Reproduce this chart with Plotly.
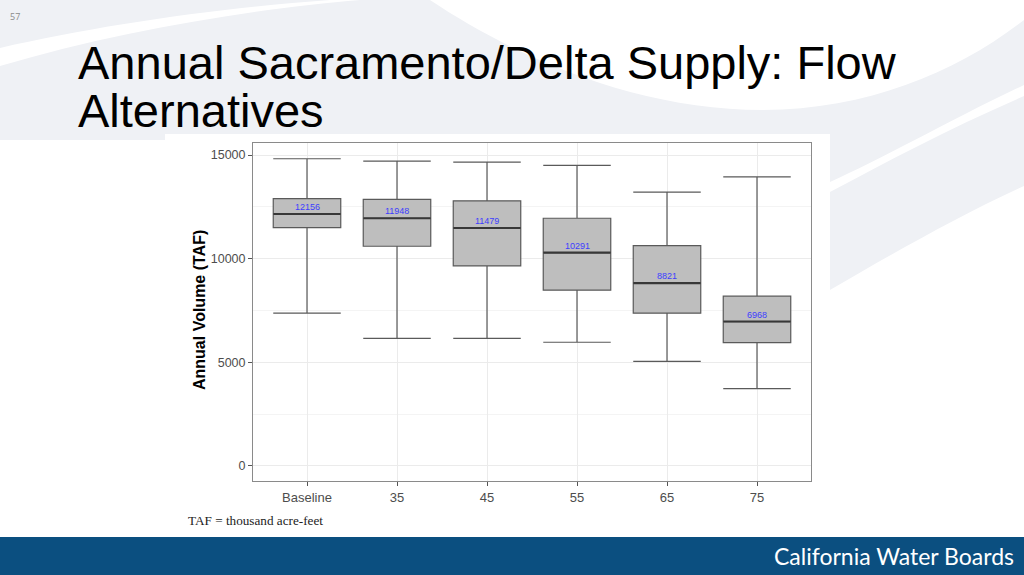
import plotly.graph_objects as go

# box statistics (TAF)
scenarios = ["Baseline", "35", "45", "55", "65", "75"]
upper_whisker = [14820, 14710, 14660, 14500, 13210, 13950]
q3 = [12900, 12860, 12790, 11950, 10630, 8190]
median = [12156, 11948, 11479, 10291, 8821, 6968]
q1 = [11500, 10600, 9650, 8480, 7370, 5950]
lower_whisker = [7370, 6160, 6160, 5970, 5050, 3730]

W, H = 1024, 575


def px(x, y):
    return x / W, 1 - y / H


def path(cmds):
    out = []
    for cmd, pts in cmds:
        coords = " ".join("%.4f,%.4f" % px(x, y) for x, y in pts)
        out.append(cmd + " " + coords if pts else cmd)
    return " ".join(out)


swoosh = "#eff1f5"
shapes = [
    dict(type="path", xref="paper", yref="paper", layer="below",
         fillcolor=swoosh, line=dict(width=0),
         path=path([("M", [(0, 0)]), ("L", [(330, 0)]),
                    ("C", [(220, 8), (100, 25), (0, 48)]), ("Z", [])])),
    dict(type="path", xref="paper", yref="paper", layer="below",
         fillcolor=swoosh, line=dict(width=0),
         path=path([("M", [(0, 66)]), ("C", [(120, 30), (260, 8), (360, 0)]),
                    ("L", [(430, 0)]), ("C", [(520, 60), (640, 110), (763, 110)]),
                    ("C", [(870, 110), (960, 70), (1024, 20)]),
                    ("L", [(1024, 85)]), ("C", [(950, 120), (880, 160), (830, 182)]),
                    ("L", [(165, 182)]), ("L", [(165, 140)]), ("L", [(0, 140)]),
                    ("Z", [])])),
    dict(type="path", xref="paper", yref="paper", layer="below",
         fillcolor=swoosh, line=dict(width=0),
         path=path([("M", [(830, 192)]), ("C", [(890, 160), (950, 128), (1024, 96)]),
                    ("L", [(1024, 186)]), ("C", [(960, 215), (890, 255), (830, 290)]),
                    ("Z", [])])),
    # white panel behind the chart
    dict(type="rect", xref="paper", yref="paper", layer="below",
         x0=px(165, 0)[0], x1=px(830, 0)[0], y0=px(0, 537)[1], y1=px(0, 134)[1],
         fillcolor="white", line=dict(width=0)),
    # footer bar
    dict(type="rect", xref="paper", yref="paper", layer="below",
         x0=0, x1=1, y0=0, y1=px(0, 537)[1],
         fillcolor="#0b4f80", line=dict(width=0)),
]

fig = go.Figure()
fig.add_trace(go.Box(
    x=scenarios, q1=q1, median=median, q3=q3,
    lowerfence=lower_whisker, upperfence=upper_whisker,
    width=0.75, whiskerwidth=1, boxpoints=False,
    fillcolor="#bebebe", line=dict(color="#5a5a5a", width=1.2),
    hoverinfo="skip", showlegend=False,
))
# thicker median bar, as in ggplot
fig.add_trace(go.Scatter(
    x=scenarios, y=median, mode="markers",
    marker=dict(symbol="line-ew", size=48, line=dict(color="#383838", width=2.1)),
    hoverinfo="skip", showlegend=False,
))

annotations = []
for i, m in enumerate(median):
    annotations.append(dict(
        x=i, y=m, xref="x", yref="y", text=str(m), showarrow=False,
        yanchor="bottom", yshift=0,
        font=dict(family="Liberation Sans, Arial", size=9, color="#3d3dff"),
    ))

title_font = dict(family="Liberation Sans, Arial", size=47, color="black")
annotations += [
    dict(x=px(76, 0)[0], y=px(0, 63)[1], xref="paper", yref="paper",
         xanchor="left", yanchor="middle", showarrow=False,
         text="Annual Sacramento/Delta Supply: Flow", font=title_font),
    dict(x=px(76, 0)[0], y=px(0, 110)[1], xref="paper", yref="paper",
         xanchor="left", yanchor="middle", showarrow=False,
         text="Alternatives", font=title_font),
    dict(x=px(199, 0)[0], y=px(0, 310)[1], xref="paper", yref="paper",
         xanchor="center", yanchor="middle", showarrow=False, textangle=-90,
         text="<b>Annual Volume (TAF)</b>",
         font=dict(family="Liberation Sans, Arial", size=16, color="black")),
    dict(x=px(186, 0)[0], y=px(0, 520)[1], xref="paper", yref="paper",
         xanchor="left", yanchor="middle", showarrow=False,
         text="TAF = thousand acre-feet",
         font=dict(family="Liberation Serif, serif", size=13.2, color="#222222")),
    dict(x=px(8, 0)[0], y=px(0, 16)[1], xref="paper", yref="paper",
         xanchor="left", yanchor="middle", showarrow=False, text="57",
         font=dict(family="Open Sans", size=9, color="#8a8a8a")),
    dict(x=px(1016, 0)[0], y=px(0, 556)[1], xref="paper", yref="paper",
         xanchor="right", yanchor="middle", showarrow=False,
         text="California Water Boards",
         font=dict(family="Lato", size=23, color="white")),
]

fig.update_layout(
    width=W, height=H, margin=dict(l=0, r=0, t=0, b=0),
    paper_bgcolor="white", plot_bgcolor="white",
    shapes=shapes, annotations=annotations,
    xaxis=dict(
        domain=[253 / W, 811 / W], range=[-0.6, 5.6], type="category",
        showgrid=True, gridcolor="#ebebeb", gridwidth=1,
        showline=True, linecolor="#8a8a8a", linewidth=1, mirror=True,
        ticks="outside", ticklen=4, tickcolor="#555555",
        tickfont=dict(family="Liberation Sans, Arial", size=13, color="#4d4d4d"),
        zeroline=False, fixedrange=True,
    ),
    yaxis=dict(
        domain=[1 - 481 / H, 1 - 143 / H], range=[-724, 15580],
        tickvals=[0, 5000, 10000, 15000], ticktext=["0", "5000", "10000", "15000"],
        showgrid=True, gridcolor="#ebebeb", gridwidth=1,
        minor=dict(dtick=2500, tick0=0, showgrid=True, gridcolor="#f4f4f4", gridwidth=0.6),
        showline=True, linecolor="#8a8a8a", linewidth=1, mirror=True,
        ticks="outside", ticklen=4, tickcolor="#555555",
        tickfont=dict(family="Liberation Sans, Arial", size=12.5, color="#4d4d4d"),
        zeroline=False, fixedrange=True,
    ),
)

fig.write_html("out.html", config={"displayModeBar": False},
               post_script="document.body.style.margin='0';")
